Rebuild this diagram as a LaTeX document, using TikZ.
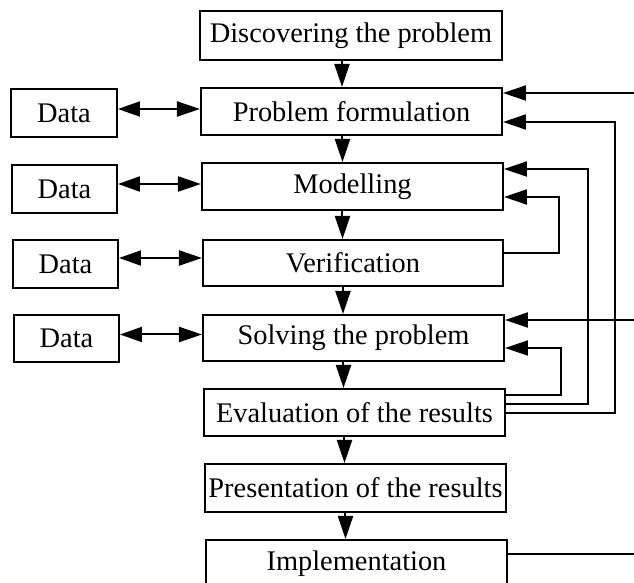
\documentclass[tikz,border=0pt]{standalone}
\usepackage{fontspec}
\setmainfont{Liberation Serif}
\usetikzlibrary{arrows.meta,calc}
\begin{document}
\begin{tikzpicture}[x=0.5pt,y=-0.5pt,
  box/.style={draw, line width=1pt, inner sep=0pt, font=\fontsize{14.2}{17}\selectfont},
  arr/.style={line width=1pt, -{Triangle[length=11.5pt,width=7.5pt]}},
  darr/.style={line width=1pt, {Triangle[length=11pt,width=7.5pt]}-{Triangle[length=11.5pt,width=7.5pt]}},
  plain/.style={line width=1pt}]
\useasboundingbox (0,0) rectangle (634,583);
\clip (0,0) rectangle (634,583);
% main boxes
\node[box, minimum width=151pt, minimum height=24.5pt] (disc) at (351,35.5) {Discovering the problem};
\node[box, minimum width=150.5pt, minimum height=23.5pt] (pf) at (351.5,111.5) {Problem formulation};
\node[box, minimum width=150.5pt, minimum height=23.5pt] (mod) at (352.5,186.5) {Modelling};
\node[box, minimum width=150pt, minimum height=23pt] (ver) at (353,263) {Verification};
\node[box, minimum width=150.5pt, minimum height=23pt] (sol) at (353.5,338) {Solving the problem};
\node[box, minimum width=150.5pt, minimum height=23.5pt] (ev) at (354.5,412.5) {Evaluation of the results};
\node[box, minimum width=150.5pt, minimum height=24pt] (pres) at (355.5,488) {Presentation of the results};
\node[box, minimum width=150.5pt, minimum height=23.5pt] (impl) at (356.5,563.5) {Implementation};
% data boxes
\node[box, minimum width=53pt, minimum height=24pt] (d1) at (64,113) {Data};
\node[box, minimum width=52.5pt, minimum height=24pt] (d2) at (64.5,189) {Data};
\node[box, minimum width=52.5pt, minimum height=24pt] (d3) at (65.5,264) {Data};
\node[box, minimum width=52.5pt, minimum height=23.5pt] (d4) at (66.5,338.5) {Data};
% data arrows
\draw[darr] ([yshift=2pt]d1.east) -- ([yshift=2pt]d1.east -| pf.west);
\draw[darr] ([yshift=2.5pt]d2.east) -- ([yshift=2.5pt]d2.east -| mod.west);
\draw[darr] ([yshift=3pt]d3.east) -- ([yshift=3pt]d3.east -| ver.west);
\draw[darr] ([yshift=2pt]d4.east) -- ([yshift=2pt]d4.east -| sol.west);
% main flow
\draw[arr] ([xshift=-4.5pt]disc.south) -- ([xshift=-4.5pt]disc.south |- pf.north);
\draw[arr] ([xshift=-4.5pt]pf.south) -- ([xshift=-4.5pt]pf.south |- mod.north);
\draw[arr] ([xshift=-5pt]mod.south) -- ([xshift=-5pt]mod.south |- ver.north);
\draw[arr] ([xshift=-5pt]ver.south) -- ([xshift=-5pt]ver.south |- sol.north);
\draw[arr] ([xshift=-5pt]sol.south) -- ([xshift=-5pt]sol.south |- ev.north);
\draw[arr] ([xshift=-5pt]ev.south) -- ([xshift=-5pt]ev.south |- pres.north);
\draw[arr] ([xshift=-5pt]pres.south) -- ([xshift=-5pt]pres.south |- impl.north);
% feedback lines
\coordinate (r1) at (634,93);
\coordinate (r2) at (634,320);
\coordinate (r3) at (634,554);
\coordinate (pfb) at (615,122);
\coordinate (mu) at (588,169);
\coordinate (ml) at (559,197);
\coordinate (vo) at (559,253);
\coordinate (sl) at (561,348);
\coordinate (e1) at (561,395);
\coordinate (e2) at (588,404);
\coordinate (e3) at (615,413);
\draw[arr] (r1) -- (r1 -| pf.east);
\draw[arr] (r2) -- (r2 -| sol.east);
\draw[plain] (r3 -| impl.east) -- (r3);
\draw[arr] (vo -| ver.east) -- (vo) -- (ml) -- (ml -| mod.east);
\draw[arr] (e1 -| ev.east) -- (e1) -- (sl) -- (sl -| sol.east);
\draw[arr] (e2 -| ev.east) -- (e2) -- (mu) -- (mu -| mod.east);
\draw[arr] (e3 -| ev.east) -- (e3) -- (pfb) -- (pfb -| pf.east);
\end{tikzpicture}
\end{document}
